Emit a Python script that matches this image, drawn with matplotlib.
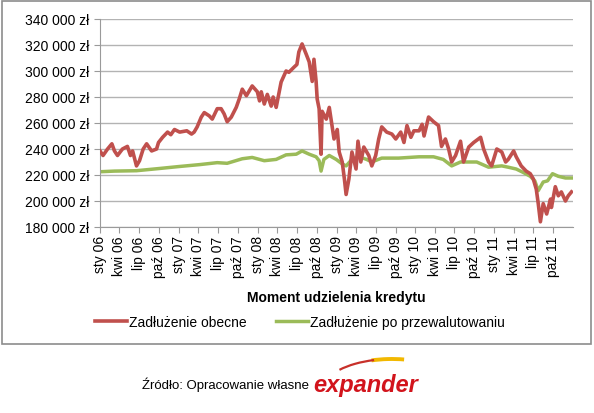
import matplotlib

matplotlib.use("Agg")
import matplotlib.pyplot as plt
import matplotlib.dates as mdates
from matplotlib.patches import Rectangle, Arc
import pandas as pd

plt.rcParams["font.family"] = ["Liberation Sans", "DejaVu Sans"]

# === Data (values in zł) ===

red_dates = [
    "2006-01-01", "2006-01-15", "2006-02-05", "2006-02-25", "2006-03-09", "2006-03-23",
    "2006-04-15", "2006-05-08", "2006-05-22", "2006-06-01", "2006-06-19", "2006-07-03",
    "2006-07-20", "2006-08-05", "2006-08-28", "2006-09-20", "2006-09-29", "2006-10-18",
    "2006-11-10", "2006-11-25", "2006-12-12", "2007-01-05", "2007-02-07", "2007-03-01",
    "2007-03-13", "2007-03-27", "2007-04-15", "2007-04-29", "2007-05-22", "2007-06-05",
    "2007-06-28", "2007-07-16", "2007-07-30", "2007-08-13", "2007-09-01", "2007-09-24",
    "2007-10-08", "2007-10-22", "2007-11-10", "2007-12-07", "2007-12-31", "2008-01-10",
    "2008-01-18", "2008-02-01", "2008-02-15", "2008-03-04", "2008-03-13", "2008-03-27",
    "2008-04-19", "2008-05-12", "2008-05-25", "2008-06-18", "2008-07-01", "2008-07-10",
    "2008-07-25", "2008-08-13", "2008-08-27", "2008-09-10", "2008-09-18", "2008-09-28",
    "2008-10-03", "2008-10-12", "2008-10-21", "2008-10-26", "2008-11-14", "2008-11-28",
    "2008-12-11", "2008-12-20", "2009-01-04", "2009-01-13", "2009-01-27", "2009-02-06",
    "2009-02-14", "2009-02-27", "2009-03-13", "2009-04-01", "2009-04-10", "2009-04-23",
    "2009-05-07", "2009-05-30", "2009-06-13", "2009-07-01", "2009-07-15", "2009-07-29",
    "2009-08-21", "2009-09-14", "2009-10-02", "2009-10-25", "2009-11-09", "2009-11-23",
    "2009-12-11", "2009-12-25", "2010-01-18", "2010-02-01", "2010-02-10", "2010-03-03",
    "2010-03-26", "2010-04-18", "2010-05-02", "2010-05-20", "2010-06-04", "2010-06-18",
    "2010-07-06", "2010-07-29", "2010-08-12", "2010-09-05", "2010-09-28", "2010-10-30",
    "2010-11-13", "2010-12-06", "2010-12-20", "2011-01-13", "2011-02-05", "2011-02-23",
    "2011-03-07", "2011-04-01", "2011-04-13", "2011-05-06", "2011-05-29", "2011-06-17",
    "2011-07-01", "2011-07-15", "2011-07-24", "2011-08-03", "2011-08-16", "2011-09-01",
    "2011-09-19", "2011-09-23", "2011-10-11", "2011-10-25", "2011-11-08", "2011-11-27",
    "2011-12-10", "2011-12-25",
]
red_values = [
    238500, 235000, 240000, 244000, 238500, 235000,
    240000, 242000, 235000, 238500, 227000, 231000,
    240000, 244000, 238500, 240000, 245000, 249000,
    253000, 251000, 255000, 253000, 254000, 251500,
    253000, 257000, 264500, 268000, 265500, 263000,
    271000, 271000, 267000, 261000, 264500, 272000,
    278500, 286000, 281000, 288500, 284000, 277000,
    284000, 274600, 282000, 273000, 280000, 272000,
    291500, 300000, 299000, 303000, 305000, 314600,
    320800, 313000, 307000, 292000, 309000, 292000,
    278500, 271000, 236000, 269000, 263000, 272000,
    257700, 247700, 255000, 237700, 230000, 217000,
    205000, 217000, 237700, 224600, 246000, 230000,
    241500, 235000, 227000, 235000, 247700, 257000,
    253000, 251500, 247700, 253000, 245000, 258000,
    249000, 254000, 254000, 259000, 250000, 264600,
    261000, 258000, 242000, 247700, 240000, 230000,
    235000, 246000, 230000, 241500, 245000, 249000,
    240000, 230000, 227000, 240000, 237700, 230000,
    232000, 238500, 234000, 227000, 223000, 221000,
    217000, 209000, 198000, 184000, 198000, 190000,
    201500, 195000, 211000, 204000, 207000, 200000,
    204000, 207000,
]

green_dates = [
    "2006-01-01", "2006-03-09", "2006-06-19", "2006-10-03", "2007-01-01", "2007-04-08",
    "2007-06-28", "2007-08-13", "2007-10-22", "2007-12-07", "2008-02-01", "2008-03-27",
    "2008-05-12", "2008-06-28", "2008-07-25", "2008-08-27", "2008-09-28", "2008-10-12",
    "2008-10-21", "2008-11-03", "2008-11-28", "2008-12-30", "2009-01-27", "2009-02-14",
    "2009-03-13", "2009-04-15", "2009-05-20", "2009-06-13", "2009-07-29", "2009-10-15",
    "2010-01-18", "2010-03-26", "2010-05-10", "2010-06-18", "2010-07-29", "2010-10-12",
    "2010-12-06", "2011-02-05", "2011-03-07", "2011-04-13", "2011-05-15", "2011-06-17",
    "2011-07-08", "2011-07-24", "2011-08-16", "2011-09-05", "2011-09-28", "2011-10-25",
    "2011-11-27", "2011-12-25",
]
green_values = [
    222500, 223000, 223300, 225000, 226500, 228000,
    229500, 229000, 232500, 233500, 231000, 232000,
    235500, 236000, 238500, 236000, 234000, 231000,
    223000, 232000, 235000, 232000, 228500, 227000,
    232000, 234000, 232000, 230000, 233000, 233000,
    234000, 234000, 232000, 227000, 230000, 230000,
    226000, 227000, 226000, 224600, 222000, 219000,
    215500, 208000, 214600, 215500, 221000, 219000,
    217700, 217700,
]

tick_dates = pd.date_range("2006-01-01", "2011-10-01", freq="QS")
tick_labels = [
    "sty 06", "kwi 06", "lip 06", "paź 06", "sty 07", "kwi 07", "lip 07", "paź 07",
    "sty 08", "kwi 08", "lip 08", "paź 08", "sty 09", "kwi 09", "lip 09", "paź 09",
    "sty 10", "kwi 10", "lip 10", "paź 10", "sty 11", "kwi 11", "lip 11", "paź 11",
]
y_ticks = [180000, 200000, 220000, 240000, 260000, 280000, 300000, 320000, 340000]

# === Plot ===

W, H = 594, 414
fig = plt.figure(figsize=(W / 100, H / 100), dpi=100)
ax = fig.add_axes([100 / W, 1 - 228 / H, 473 / W, 208 / H])

ax.plot(pd.to_datetime(red_dates), red_values, color="#c0504d", lw=2.6,
        label="Zadłużenie obecne", solid_joinstyle="round", zorder=3)
ax.plot(pd.to_datetime(green_dates), green_values, color="#9bbb59", lw=2.5,
        label="Zadłużenie po przewalutowaniu", solid_joinstyle="round", zorder=2)

ax.set_xlim(pd.Timestamp("2006-01-01"), pd.Timestamp("2012-01-01"))
ax.set_ylim(180000, 340000)
ax.set_yticks(y_ticks)
ax.set_yticklabels([f"{v // 1000} 000 zł" for v in y_ticks], fontsize=10)
ax.set_xticks(tick_dates)
ax.set_xticklabels(tick_labels, rotation=90, fontsize=10)
ax.xaxis.set_minor_locator(mdates.MonthLocator(bymonth=[1]))

ax.grid(axis="y", color="#b3b3b3", lw=1)
ax.set_axisbelow(True)
for s in ["top", "right"]:
    ax.spines[s].set_visible(False)
for s in ["left", "bottom"]:
    ax.spines[s].set_color("#9a9a9a")
ax.tick_params(axis="both", colors="#9a9a9a", labelcolor="black", length=4)
ax.tick_params(axis="x", pad=2)
ax.tick_params(axis="x", which="minor", length=0)

fig.text(336 / W, 1 - 298 / H, "Moment udzielenia kredytu", ha="center",
         va="center", fontsize=10, fontweight="bold")

fig.legend(loc="center", bbox_to_anchor=(300 / W, 1 - 323 / H), ncol=2,
           frameon=False, fontsize=10, handlelength=2.3, handletextpad=0.15,
           columnspacing=2.1)

# chart border
fig.patches.append(Rectangle((2 / W, 1 - 345 / H), 589 / W, 343 / H,
                             transform=fig.transFigure, fill=False,
                             edgecolor="#8c8c8c", lw=1.2))

# source line with logo
fig.text(142 / W, 1 - 385 / H, "Źródło: Opracowanie własne", ha="left",
         va="center", fontsize=9.5)
fig.patches.append(Arc((392 / W, 1 - 392 / H), 140 / W, 64 / H, theta1=75, theta2=115,
                       transform=fig.transFigure, color="#f2b800", lw=2.8))
fig.patches.append(Arc((392 / W, 1 - 392 / H), 140 / W, 64 / H, theta1=112, theta2=150,
                       transform=fig.transFigure, color="#c8302a", lw=1.6))
fig.text(313 / W, 1 - 386 / H, "expander", ha="left", va="center", fontsize=17,
         fontweight="bold", fontstyle="italic", color="#d2141c")

fig.savefig("out.png", dpi=100)
